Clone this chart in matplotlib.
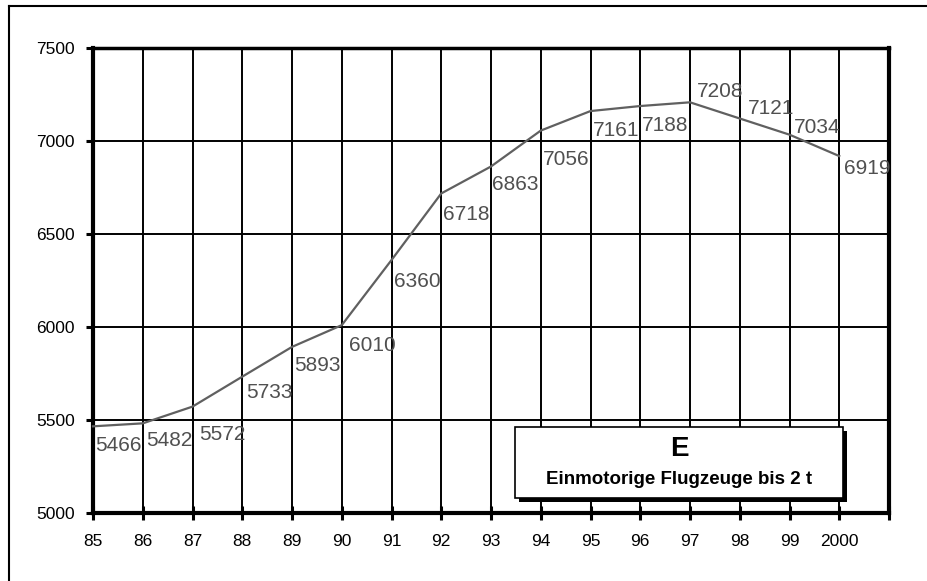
import matplotlib.pyplot as plt
from matplotlib.patches import Rectangle
from matplotlib.lines import Line2D
import numpy as np

plt.rcParams['font.family'] = ['Liberation Sans', 'DejaVu Sans']

years = ['85', '86', '87', '88', '89', '90', '91', '92', '93', '94',
         '95', '96', '97', '98', '99', '2000']
counts = [5466, 5482, 5572, 5733, 5893, 6010, 6360, 6718, 6863, 7056,
          7161, 7188, 7208, 7121, 7034, 6919]

# label offsets from each point, in pixels (dx right, dy down)
label_off = [(25, 19), (27, 17), (30, 28), (27, 16), (25, 19), (31, 20),
             (26, 21), (25, 21), (24, 18), (25, 29), (26, 19), (25, 19),
             (30, -11), (31, -10), (28, -7), (28, 12)]

W, H = 927, 581
fig = plt.figure(figsize=(W / 100, H / 100), dpi=100)
ax = fig.add_axes([93 / W, 1 - 513 / H, (889 - 93) / W, (513 - 48) / H])

x = np.arange(len(counts))
ax.plot(x, counts, color='#606060', lw=1.6, zorder=3, clip_on=False)

for i, v in enumerate(counts):
    dx, dy = label_off[i]
    ax.annotate(str(v), (i, v), xytext=(dx, -dy), textcoords='offset pixels',
                ha='center', va='center', fontsize=15, color='#505050',
                zorder=5, annotation_clip=False)

ax.set_xlim(0, len(counts))
ax.set_ylim(5000, 7500)
ax.set_xticks(np.arange(len(counts) + 1))
ax.set_xticklabels(years + [''])
ax.set_yticks([5000, 5500, 6000, 6500, 7000, 7500])
ax.grid(True, color='black', lw=1.4)
ax.set_axisbelow(True)
ax.tick_params(axis='x', direction='inout', length=10, width=2.2,
               labelsize=12.5, pad=10)
ax.tick_params(axis='y', direction='out', length=5, width=2.2,
               labelsize=12.5, pad=8)
for side in ['left', 'bottom', 'right']:
    ax.spines[side].set_linewidth(3)
ax.spines['top'].set_linewidth(2.5)

# legend box with drop shadow
bx0, by0, bx1, by1 = 515, 427, 843, 498
fig.patches.append(Rectangle((bx0 / W + 4 / W, 1 - (by1 + 4) / H),
                             (bx1 - bx0) / W, (by1 - by0) / H,
                             transform=fig.transFigure, facecolor='black',
                             edgecolor='none', zorder=10))
fig.patches.append(Rectangle((bx0 / W, 1 - by1 / H), (bx1 - bx0) / W,
                             (by1 - by0) / H, transform=fig.transFigure,
                             facecolor='white', edgecolor='black', lw=1.2,
                             zorder=11))
cx = (bx0 + bx1) / 2 / W
fig.text(cx, 1 - 449 / H, 'E', ha='center', va='center', fontsize=20,
         fontweight='bold', zorder=12)
fig.text(cx, 1 - 479 / H, 'Einmotorige Flugzeuge bis 2 t', ha='center',
         va='center', fontsize=13.5, fontweight='bold', zorder=12)

# outer frame
fig.lines.append(Line2D([9 / W, 9 / W], [0, 1 - 6 / H],
                        transform=fig.transFigure, color='black', lw=1.5))
fig.lines.append(Line2D([9 / W, 926 / W], [1 - 6 / H, 1 - 6 / H],
                        transform=fig.transFigure, color='black', lw=1.5))

fig.savefig('out.png', dpi=100)
